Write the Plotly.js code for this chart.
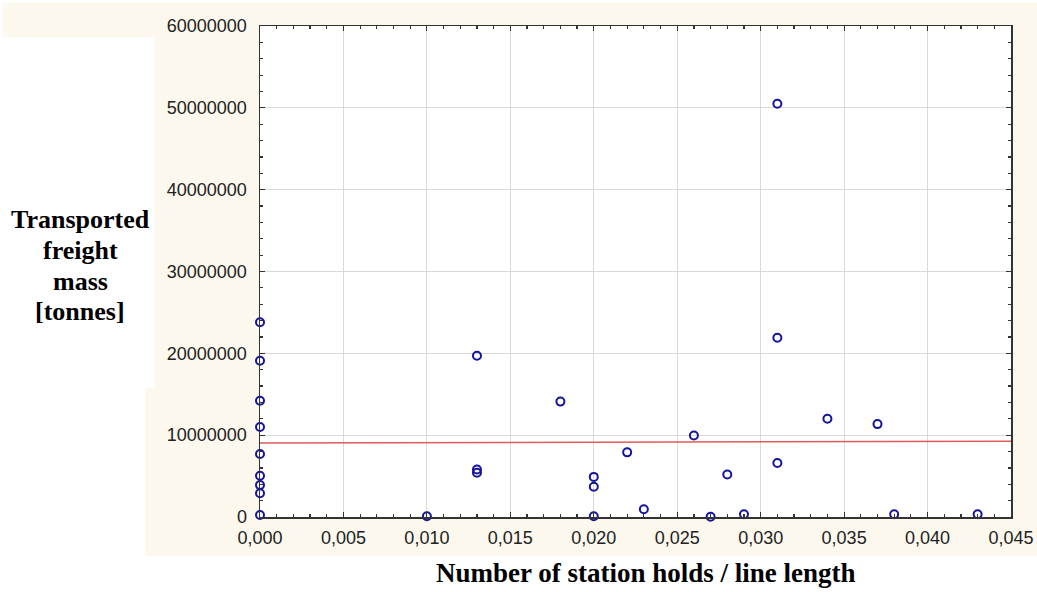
<!DOCTYPE html>
<html>
<head>
<meta charset="utf-8">
<script src="https://cdn.plot.ly/plotly-3.0.1.min.js"></script>
<style>html,body{margin:0;padding:0;background:#ffffff;}#chart{width:1037px;height:592px;}</style>
</head>
<body>
<div id="chart"></div>
<script>
// Observed data: number of station holds / line length vs transported freight mass [tonnes]
const holdsPerLength = [
  0.000, 0.000, 0.000, 0.000, 0.000, 0.000, 0.000, 0.000, 0.000,
  0.010,
  0.013, 0.013, 0.013,
  0.018,
  0.020, 0.020, 0.020,
  0.022, 0.023, 0.026, 0.027, 0.028, 0.029,
  0.031, 0.031, 0.031,
  0.034, 0.037, 0.038, 0.043
];
const freightMass = [
  23800000, 19100000, 14200000, 11000000, 7700000, 5050000, 3900000, 2900000, 250000,
  100000,
  19700000, 5800000, 5400000,
  14100000,
  4900000, 3700000, 100000,
  7900000, 940000, 9960000, 40000, 5200000, 330000,
  50500000, 21900000, 6600000,
  12000000, 11350000, 330000, 330000
];
// Fitted line (red)
const fitX = [0.000, 0.045];
const fitY = [9050000, 9250000];

const xTickVals = [0, 0.005, 0.010, 0.015, 0.020, 0.025, 0.030, 0.035, 0.040, 0.045];
const yTickVals = [0, 10000000, 20000000, 30000000, 40000000, 50000000, 60000000];

const yTitleLines = ["Transported", "freight", "mass", "[tonnes]"];
const xTitleText = "Number of station holds / line length";

// page geometry helpers (pixel -> paper coordinates)
const W = 1037, H = 592, L = 260, R = 1011, T = 26, B = 517;
const px = v => (v - L) / (R - L);
const py = v => (B - v) / (B - T);

const cream = "#fcf8ee";
const shapes = [
  {type:"rect", xref:"paper", yref:"paper", x0:px(0), x1:px(155), y0:py(388), y1:py(37), fillcolor:"#ffffff", line:{width:0}, layer:"below"},
  {type:"rect", xref:"paper", yref:"paper", x0:px(0), x1:px(145), y0:py(557), y1:py(387), fillcolor:"#ffffff", line:{width:0}, layer:"below"},
  {type:"rect", xref:"paper", yref:"paper", x0:px(0), x1:px(W), y0:py(H), y1:py(556), fillcolor:"#ffffff", line:{width:0}, layer:"below"},
  {type:"rect", xref:"paper", yref:"paper", x0:px(0), x1:px(W), y0:py(3), y1:py(0), fillcolor:"#ffffff", line:{width:0}, layer:"below"},
  {type:"rect", xref:"paper", yref:"paper", x0:px(0), x1:px(3), y0:py(40), y1:py(0), fillcolor:"#ffffff", line:{width:0}, layer:"below"}
];

const titleFont = {family:"Liberation Serif, Times New Roman, serif", size:26, color:"#000000"};
const xTitleFont = {family:"Liberation Serif, Times New Roman, serif", size:27, color:"#000000"};
const annotations = [];
const baselines = [228, 259, 290, 320];
yTitleLines.forEach((t, i) => {
  annotations.push({text:"<b>" + t + "</b>", xref:"paper", yref:"paper", x:px(80), y:py(baselines[i] - 9),
    xanchor:"center", yanchor:"middle", showarrow:false, font:titleFont});
});
annotations.push({text:"<b>" + xTitleText + "</b>", xref:"paper", yref:"paper", x:px(646), y:py(573),
  xanchor:"center", yanchor:"middle", showarrow:false, font:xTitleFont});

const traces = [
  {
    x: holdsPerLength, y: freightMass, type:"scatter", mode:"markers",
    marker:{symbol:"circle-open", size:8, color:"#14149c", line:{width:2, color:"#14149c"}},
    showlegend:false, hoverinfo:"x+y", cliponaxis:false
  },
  {
    x: fitX, y: fitY, type:"scatter", mode:"lines",
    line:{color:"#e05a5a", width:1.5}, showlegend:false
  }
];

const tickFont = {family:"Liberation Sans, Arial, sans-serif", size:18, color:"#222222"};
const layout = {
  width:W, height:H,
  margin:{l:L, r:W - R, t:T, b:H - B, pad:0},
  paper_bgcolor:cream, plot_bgcolor:"#ffffff",
  separators:",.",
  showlegend:false,
  xaxis:{
    range:[0, 0.045], tickvals:xTickVals, tickformat:".3f",
    showgrid:true, gridcolor:"#d9d9d9", gridwidth:1,
    zeroline:false, showline:true, linecolor:"#333333", linewidth:1.5, mirror:"ticks",
    ticks:"inside", ticklen:5, tickcolor:"#333333", tickwidth:1.2,
    minor:{dtick:0.001, ticks:"inside", ticklen:3, tickcolor:"#333333", showgrid:false},
    tickfont:tickFont, ticklabelstandoff:4, fixedrange:true
  },
  yaxis:{
    range:[0, 60000000], tickvals:yTickVals, tickformat:"d",
    showgrid:true, gridcolor:"#d9d9d9", gridwidth:1,
    zeroline:false, showline:true, linecolor:"#333333", linewidth:1.5, mirror:"ticks",
    ticks:"inside", ticklen:5, tickcolor:"#333333", tickwidth:1.2,
    minor:{dtick:2000000, ticks:"inside", ticklen:3, tickcolor:"#333333", showgrid:false},
    tickfont:tickFont, ticklabelstandoff:8, fixedrange:true
  },
  shapes:shapes,
  annotations:annotations
};

Plotly.newPlot("chart", traces, layout, {displayModeBar:false, staticPlot:true});
</script>
</body>
</html>
